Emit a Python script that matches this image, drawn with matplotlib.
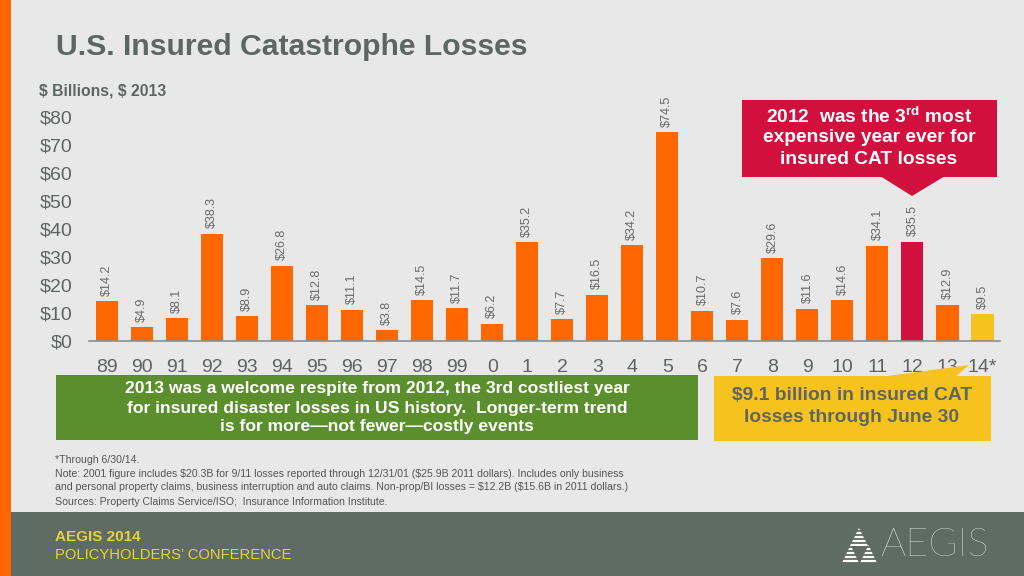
import matplotlib
matplotlib.use("Agg")
import matplotlib.pyplot as plt
from matplotlib.patches import Rectangle, Polygon

plt.rcParams['font.family'] = ['Liberation Sans', 'DejaVu Sans']
plt.rcParams['mathtext.fontset'] = 'custom'
plt.rcParams['mathtext.bf'] = 'Liberation Sans:bold'
plt.rcParams['mathtext.rm'] = 'Liberation Sans'

# ---- data ----
years = ["89", "90", "91", "92", "93", "94", "95", "96", "97", "98", "99",
         "0", "1", "2", "3", "4", "5", "6", "7", "8", "9", "10", "11", "12", "13", "14*"]
losses = [14.2, 4.9, 8.1, 38.3, 8.9, 26.8, 12.8, 11.1, 3.8, 14.5, 11.7,
          6.2, 35.2, 7.7, 16.5, 34.2, 74.5, 10.7, 7.6, 29.6, 11.6, 14.6, 34.1, 35.5, 12.9, 9.5]
yticks = [0, 10, 20, 30, 40, 50, 60, 70, 80]
ytick_labels = ["$0", "$10", "$20", "$30", "$40", "$50", "$60", "$70", "$80"]

ORANGE = "#FF6800"
RED = "#D2103E"
YELLOW = "#F6C21E"
GREEN = "#5B8E2C"
TXT = "#5E6462"
BG = "#E8E8E8"
FOOT = "#5F6B65"

bar_colors = [ORANGE] * len(years)
bar_colors[years.index("12")] = RED
bar_colors[years.index("14*")] = YELLOW

W, H = 1024, 576
fig = plt.figure(figsize=(W / 100, H / 100), dpi=100, facecolor=BG)

def rect(l, t, r, b):
    return [l / W, 1 - b / H, (r - l) / W, (b - t) / H]

# background layer (pixel coords)
bg = fig.add_axes([0, 0, 1, 1], zorder=0)
bg.set_xlim(0, W); bg.set_ylim(H, 0); bg.axis("off")
bg.set_facecolor("none")
bg.add_patch(Rectangle((0, 512), W, 64, color=FOOT, lw=0))
bg.add_patch(Rectangle((0, 0), 11, H, color="#FF6600", lw=0))

# chart axes
ax = fig.add_axes(rect(89, 117, 1000, 341), zorder=1)
ax.set_facecolor("none")
x = list(range(len(years)))
ax.bar(x, losses, width=0.63, color=bar_colors, zorder=2)
for xi, v in zip(x, losses):
    ax.annotate(f"${v:.1f}", (xi, v), xytext=(0, 4), textcoords="offset points",
                rotation=90, ha="center", va="bottom", fontsize=9, color="#666A68")
ax.set_xlim(-0.52, 25.5)
ax.set_ylim(0, 80)
ax.set_xticks(x)
ax.set_xticklabels(years, fontsize=14, color=TXT)
ax.set_yticks(yticks)
ax.set_yticklabels(ytick_labels, fontsize=14, color=TXT)
ax.tick_params(axis="both", length=0)
ax.tick_params(axis="x", pad=13)
ax.tick_params(axis="y", pad=12)
for s in ["top", "right", "left"]:
    ax.spines[s].set_visible(False)
ax.spines["bottom"].set_color("#8A8E8C")
ax.spines["bottom"].set_linewidth(1.2)

# overlay layer
ov = fig.add_axes([0, 0, 1, 1], zorder=3)
ov.set_xlim(0, W); ov.set_ylim(H, 0); ov.axis("off")
ov.set_facecolor("none")

ov.text(56, 47, "U.S. Insured Catastrophe Losses", fontsize=21.7, fontweight="bold",
        color="#5D6663", va="center", ha="left")
ov.text(39, 91, r"\$ Billions, \$ 2013", fontsize=11.3, fontweight="bold",
        color="#5D6663", va="center", ha="left")

# red callout
ov.add_patch(Rectangle((742, 100), 255, 77, color=RED, lw=0))
ov.add_patch(Polygon([(880, 176), (945, 176), (912, 196)], closed=True, color=RED, lw=0))
ov.text(869, 117, r"2012  was the 3$^{\mathbf{rd}}$ most", fontsize=13.8, fontweight="bold",
        color="white", ha="center", va="center")
ov.text(869, 138, "expensive year ever for", fontsize=13.8, fontweight="bold",
        color="white", ha="center", va="center")
ov.text(869, 160, "insured CAT losses", fontsize=13.8, fontweight="bold",
        color="white", ha="center", va="center")

# green box
ov.add_patch(Rectangle((56, 375), 642, 65, color=GREEN, lw=0))
green_lines = ["2013 was a welcome respite from 2012, the 3rd costliest year",
               "for insured disaster losses in US history.  Longer-term trend",
               "is for more\u2014not fewer\u2014costly events"]
for i, t in enumerate(green_lines):
    ov.text(377, 389 + i * 19, t, fontsize=12.6, fontweight="bold", color="white",
            ha="center", va="center")

# yellow box
ov.add_patch(Rectangle((714, 376), 277, 65, color=YELLOW, lw=0))
ov.add_patch(Polygon([(880, 377), (969, 365), (955, 377)], closed=True, color=YELLOW, lw=0))
ov.text(852, 396, "$9.1 billion in insured CAT", fontsize=13.9, fontweight="bold",
        color="#5F6660", ha="center", va="center")
ov.text(852, 417, "losses through June 30", fontsize=13.9, fontweight="bold",
        color="#5F6660", ha="center", va="center")

# notes
NOTE = "#555555"
ov.text(55, 460, "*Through 6/30/14.", fontsize=7.55, color=NOTE, va="center")
ov.text(55, 474, r"Note: 2001 figure includes \$20.3B for 9/11 losses reported through 12/31/01 (\$25.9B 2011 dollars). Includes only business",
        fontsize=7.55, color=NOTE, va="center")
ov.text(55, 487, r"and personal property claims, business interruption and auto claims. Non-prop/BI losses = \$12.2B (\$15.6B in 2011 dollars.)",
        fontsize=7.55, color=NOTE, va="center")
ov.text(55, 502, "Sources: Property Claims Service/ISO;  Insurance Information Institute.",
        fontsize=7.55, color=NOTE, va="center")

# footer
ov.text(55, 537, "AEGIS 2014", fontsize=11, fontweight="bold", color="#E6D23A", va="center")
ov.text(55, 555, "POLICYHOLDERS\u2019 CONFERENCE", fontsize=10.6, color="#E6D23A", va="center")

# logo
for (ax_, ay_, bx0, bx1, by) in [(859, 528, 850, 868, 546), (850.5, 545, 842, 859, 563), (868.5, 545, 860, 877, 563)]:
    ov.add_patch(Polygon([(ax_, ay_), (bx0, by), (bx1, by)], closed=True, color="white", lw=0))
for yy in range(531, 564, 4):
    ov.plot([838, 880], [yy, yy], color=FOOT, lw=1.3, solid_capstyle="butt")
ov.text(880, 545, "AEGIS", fontsize=28.5, color="#F2F2F2", va="center", ha="left",
        family=["Lato", "Liberation Sans"], fontweight="light")

fig.savefig("out.png", dpi=100, facecolor=BG)
